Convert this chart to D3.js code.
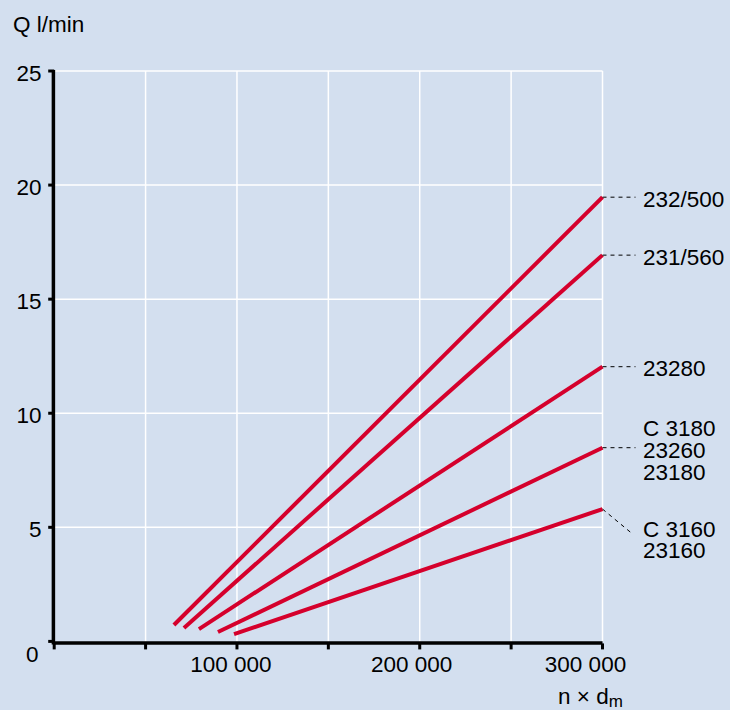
<!DOCTYPE html>
<html><head><meta charset="utf-8">
<script src="https://cdn.jsdelivr.net/npm/d3@7"></script>
<style>
html,body{margin:0;padding:0;background:#d3dfef;}
svg{display:block;font-family:"Liberation Sans",Arial,Helvetica,sans-serif;}
</style></head>
<body>
<svg id="c" width="730" height="710"></svg>
<script>
// Data
const seriesNames = ["232/500", "231/560", "23280", "23260", "23160"];
const startX = [65500, 71000, 79200, 89600, 98400];
const startY = [0.72, 0.59, 0.54, 0.41, 0.32];
const endX = [300000, 300000, 300000, 300000, 300000];
const endY = [19.47, 16.93, 12.04, 8.49, 5.80];
const labelLines = [["232/500"], ["231/560"], ["23280"], ["C 3180", "23260", "23180"], ["C 3160", "23160"]];
const xTicks = [0, 50000, 100000, 150000, 200000, 250000, 300000];
const xTickLabels = ["", "", "100 000", "", "200 000", "", "300 000"];
const yTicks = [0, 5, 10, 15, 20, 25];
const yTickLabels = ["", "5", "10", "15", "20", "25"];

const svg = d3.select("#c");
const x = d3.scaleLinear().domain([0, 300000]).range([54.2, 602.5]);
const y = d3.scaleLinear().domain([0, 25]).range([641.4, 71]);
const red = "#d5002c";
const fs = 22.5;

// background
svg.append("rect").attr("width", 730).attr("height", 710).attr("fill", "#d3dfef");

// grid
const g = svg.append("g");
g.selectAll("line.v").data(xTicks.slice(1)).join("line")
  .attr("x1", d => x(d)).attr("x2", d => x(d))
  .attr("y1", y(25)).attr("y2", y(0))
  .attr("stroke", "#ffffff").attr("stroke-width", 1.5);
g.selectAll("line.h").data(yTicks.slice(1)).join("line")
  .attr("y1", d => y(d)).attr("y2", d => y(d))
  .attr("x1", x(0)).attr("x2", x(300000))
  .attr("stroke", "#ffffff").attr("stroke-width", 1.5);

// series lines
const data = seriesNames.map((n, i) => ({name: n, x0: startX[i], y0: startY[i], x1: endX[i], y1: endY[i], lines: labelLines[i]}));
svg.selectAll("line.s").data(data).join("line")
  .attr("x1", d => x(d.x0)).attr("y1", d => y(d.y0))
  .attr("x2", d => x(d.x1)).attr("y2", d => y(d.y1))
  .attr("stroke", red).attr("stroke-width", 4).attr("stroke-linecap", "butt");

// leaders and labels
const lh = 21.7;
data.forEach((d, i) => {
  const ex = x(d.x1), ey = y(d.y1);
  let firstCenter;
  if (i === 4) {
    svg.append("line").attr("x1", ex).attr("y1", ey).attr("x2", ex + 29).attr("y2", ey + 24)
      .attr("stroke", "#000").attr("stroke-width", 1).attr("stroke-dasharray", "4,4");
    firstCenter = ey + 19.5;
  } else {
    svg.append("line").attr("x1", ex).attr("y1", ey).attr("x2", ex + 33).attr("y2", ey)
      .attr("stroke", "#000").attr("stroke-width", 1).attr("stroke-dasharray", "4,4");
    firstCenter = (i === 3) ? ey + 2.5 - lh : ey + 1.5;
  }
  const t = svg.append("text").attr("x", 643).attr("y", firstCenter + 8)
    .attr("font-size", fs).attr("fill", "#000");
  d.lines.forEach((s, k) => {
    t.append("tspan").attr("x", 643).attr("dy", k === 0 ? 0 : lh).text(s);
  });
});

// axes
const axis = svg.append("g");
axis.append("line").attr("x1", x(0)).attr("x2", x(300000)).attr("y1", y(0) + 1.5).attr("y2", y(0) + 1.5)
  .attr("stroke", "#000").attr("stroke-width", 3.5);
axis.append("line").attr("x1", x(0) - 0.8).attr("x2", x(0) - 0.8).attr("y1", y(25) - 1).attr("y2", y(0) + 3)
  .attr("stroke", "#000").attr("stroke-width", 3.5);
axis.selectAll("line.xt").data(xTicks).join("line")
  .attr("x1", d => x(d)).attr("x2", d => x(d))
  .attr("y1", y(0) + 2).attr("y2", y(0) + 8)
  .attr("stroke", "#000").attr("stroke-width", 3);
axis.selectAll("line.yt").data(yTicks).join("line")
  .attr("x1", x(0) - 6).attr("x2", x(0))
  .attr("y1", d => y(d)).attr("y2", d => y(d))
  .attr("stroke", "#000").attr("stroke-width", 3);

const xLabelShift = [0, 0, -6, 0, -8, 0, -17];
axis.selectAll("text.xl").data(xTicks).join("text")
  .attr("x", (d, i) => x(d) + xLabelShift[i]).attr("y", 672)
  .attr("text-anchor", "middle").attr("font-size", fs).text((d, i) => xTickLabels[i]);
axis.selectAll("text.yl").data(yTicks).join("text")
  .attr("x", 41.5).attr("y", d => y(d) + 10)
  .attr("text-anchor", "end").attr("font-size", fs).text((d, i) => yTickLabels[i]);
axis.append("text").attr("x", 38.5).attr("y", 662).attr("text-anchor", "end").attr("font-size", fs).text("0");

// axis titles
svg.append("text").attr("x", 13).attr("y", 31.5).attr("font-size", fs).text("Q l/min");
const xt = svg.append("text").attr("x", 558).attr("y", 704).attr("font-size", fs);
xt.append("tspan").text("n × d");
xt.append("tspan").attr("font-size", 17).attr("dy", 3).text("m");
</script>
</body></html>
